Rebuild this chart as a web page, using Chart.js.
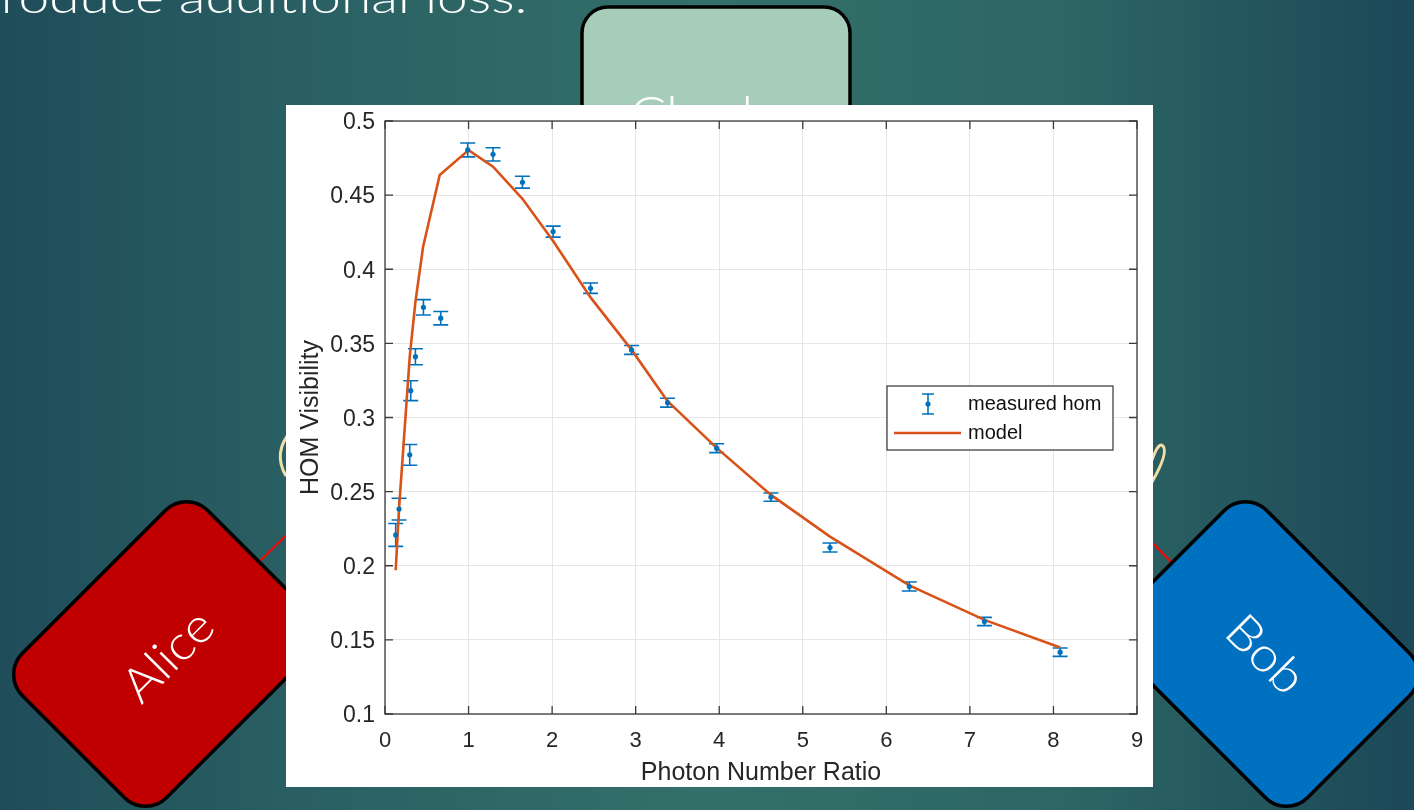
<!DOCTYPE html>
<html>
<head>
<meta charset="utf-8">
<script src="https://cdn.jsdelivr.net/npm/chart.js@4.4.1/dist/chart.umd.min.js"></script>
<style>
  html,body{margin:0;padding:0;width:1414px;height:810px;overflow:hidden;}
  body{position:relative;background:linear-gradient(90deg,#1f4d5a 0%,#2a6063 22%,#34706a 50%,#2d6664 75%,#1c4858 100%);font-family:"Liberation Sans",Arial,sans-serif;}
  #deco{position:absolute;left:0;top:0;}
  .slidetxt{position:absolute;color:#fff;font-family:"Lato","Open Sans",sans-serif;font-weight:300;white-space:nowrap;transform-origin:right top;}
  #wrap{position:absolute;left:286px;top:105px;width:867px;height:682px;background:#fff;}
</style>
</head>
<body>
<svg id="deco" width="1414" height="810" xmlns="http://www.w3.org/2000/svg">
  <line x1="230" y1="590" x2="300" y2="522" stroke="#ff0000" stroke-width="2"/>
  <line x1="1140" y1="530" x2="1175" y2="566" stroke="#ff0000" stroke-width="2"/>
  <path d="M292 430 Q272 452 286 476" fill="none" stroke="#f3dfa6" stroke-width="3"/>
  <path d="M1152 482 C1160 468 1168 452 1163 446 C1159 442 1155 452 1152 460" fill="none" stroke="#f3dfa6" stroke-width="3"/>
  <rect x="582" y="7" width="268" height="170" rx="26" ry="26" fill="#a6cdb9" stroke="#000" stroke-width="3.5"/>
  <text x="717" y="132" fill="#fff" font-family="Lato, Open Sans, sans-serif" font-weight="300" font-size="50" text-anchor="middle" transform="translate(717,0) scale(1.08,1) translate(-717,0)">Charles</text>
  <g transform="translate(166,654) rotate(-45)">
    <rect x="-131" y="-102" width="262" height="204" rx="30" ry="30" fill="#c00000" stroke="#000" stroke-width="3.5"/>
    <text x="0" y="19" fill="#fff" font-family="Lato, Open Sans, sans-serif" font-weight="300" font-size="48" text-anchor="middle" transform="scale(1.08,1)">Alice</text>
  </g>
  <g transform="translate(1266,654) rotate(45)">
    <rect x="-131" y="-102" width="262" height="204" rx="30" ry="30" fill="#0070c0" stroke="#000" stroke-width="3.5"/>
    <text x="0" y="17" fill="#fff" font-family="Lato, Open Sans, sans-serif" font-weight="300" font-size="48" text-anchor="middle" transform="scale(1.08,1)">Bob</text>
  </g>
</svg>
<div class="slidetxt" style="right:887px;top:-26px;font-size:44px;line-height:44px;transform:scaleX(1.25);">roduce additional loss.</div>
<div id="wrap"><canvas id="c" width="867" height="682"></canvas></div>
<script>
// ---- data ----
const measuredX = [0.128, 0.168, 0.296, 0.308, 0.364, 0.46, 0.667, 0.99, 1.293, 1.645, 2.012, 2.46, 2.951, 3.382, 3.969, 4.619, 5.326, 6.275, 7.174, 8.08];
const measuredY = [0.2208, 0.2382, 0.2748, 0.3181, 0.341, 0.3743, 0.367, 0.4805, 0.4775, 0.4587, 0.4254, 0.3872, 0.3456, 0.31, 0.2793, 0.2463, 0.2123, 0.186, 0.1624, 0.1417];
const measuredErr = [0.0077, 0.0073, 0.007, 0.0067, 0.0054, 0.0052, 0.0045, 0.0047, 0.0045, 0.004, 0.0037, 0.0035, 0.003, 0.003, 0.003, 0.0028, 0.003, 0.003, 0.0028, 0.0028];
const modelX = [0.128, 0.168, 0.296, 0.364, 0.456, 0.655, 1.0, 1.293, 1.645, 2.012, 2.46, 2.951, 3.382, 3.969, 4.619, 5.326, 6.275, 7.174, 8.08];
const modelY = [0.197, 0.2385, 0.341, 0.378, 0.4152, 0.4636, 0.4804, 0.4692, 0.4475, 0.419, 0.381, 0.3456, 0.311, 0.2795, 0.2478, 0.2197, 0.1867, 0.1635, 0.1449];
const xTicks = [0,1,2,3,4,5,6,7,8,9];
const yTicks = [0.1,0.15,0.2,0.25,0.3,0.35,0.4,0.45,0.5];
const seriesNames = ['measured hom', 'model'];

const BLUE = '#0072BD', ORANGE = '#D95319', AXIS = '#3a3a3a';
const FONT = '"Liberation Sans", Arial, sans-serif';

const errorBars = {
  id: 'errorBars',
  beforeDatasetsDraw(chart) {
    const {ctx, scales:{x, y}} = chart;
    ctx.save();
    ctx.strokeStyle = BLUE; ctx.lineWidth = 1.6;
    for (let i = 0; i < measuredX.length; i++) {
      const px = x.getPixelForValue(measuredX[i]);
      const y1 = y.getPixelForValue(measuredY[i] - measuredErr[i]);
      const y2 = y.getPixelForValue(measuredY[i] + measuredErr[i]);
      ctx.beginPath();
      ctx.moveTo(px, y1); ctx.lineTo(px, y2);
      ctx.moveTo(px - 7.5, y1); ctx.lineTo(px + 7.5, y1);
      ctx.moveTo(px - 7.5, y2); ctx.lineTo(px + 7.5, y2);
      ctx.stroke();
    }
    ctx.restore();
  }
};

const frame = {
  id: 'frame',
  afterDatasetsDraw(chart) {
    const {ctx, chartArea:a, scales:{x, y}} = chart;
    ctx.save();
    ctx.strokeStyle = AXIS; ctx.lineWidth = 1.3;
    ctx.strokeRect(a.left, a.top, a.right - a.left, a.bottom - a.top);
    ctx.beginPath();
    const L = 8;
    xTicks.forEach(v => {
      const px = x.getPixelForValue(v);
      ctx.moveTo(px, a.bottom); ctx.lineTo(px, a.bottom - L);
      ctx.moveTo(px, a.top); ctx.lineTo(px, a.top + L);
    });
    yTicks.forEach(v => {
      const py = y.getPixelForValue(v);
      ctx.moveTo(a.left, py); ctx.lineTo(a.left + L, py);
      ctx.moveTo(a.right, py); ctx.lineTo(a.right - L, py);
    });
    ctx.stroke();
    // legend box (placed relative to the plot area)
    const bx = a.left + 502, by = a.top + 265, bw = 226, bh = 64;
    ctx.fillStyle = '#fff';
    ctx.fillRect(bx, by, bw, bh);
    ctx.strokeStyle = '#333'; ctx.lineWidth = 1.2;
    ctx.strokeRect(bx, by, bw, bh);
    const ix = bx + 41, iy = by + 18;
    ctx.strokeStyle = BLUE; ctx.lineWidth = 1.6;
    ctx.beginPath();
    ctx.moveTo(ix, iy - 10); ctx.lineTo(ix, iy + 10);
    ctx.moveTo(ix - 6, iy - 10); ctx.lineTo(ix + 6, iy - 10);
    ctx.moveTo(ix - 6, iy + 10); ctx.lineTo(ix + 6, iy + 10);
    ctx.stroke();
    ctx.fillStyle = BLUE;
    ctx.beginPath(); ctx.arc(ix, iy, 2.6, 0, Math.PI * 2); ctx.fill();
    ctx.strokeStyle = ORANGE; ctx.lineWidth = 2.5;
    ctx.beginPath(); ctx.moveTo(bx + 7, by + 47); ctx.lineTo(bx + 74, by + 47); ctx.stroke();
    ctx.fillStyle = '#111';
    ctx.font = '20px ' + FONT;
    ctx.textBaseline = 'middle'; ctx.textAlign = 'left';
    ctx.fillText(seriesNames[0], bx + 81, iy);
    ctx.fillText(seriesNames[1], bx + 81, by + 47);
    ctx.restore();
  }
};

const fmt = v => String(Number(v.toFixed(2)));

new Chart(document.getElementById('c'), {
  type: 'scatter',
  data: {
    datasets: [
      {
        label: seriesNames[0],
        data: measuredX.map((v, i) => ({x: v, y: measuredY[i]})),
        showLine: false,
        pointRadius: 2.6,
        pointBackgroundColor: BLUE,
        pointBorderWidth: 0,
        borderColor: BLUE
      },
      {
        label: seriesNames[1],
        data: modelX.map((v, i) => ({x: v, y: modelY[i]})),
        showLine: true,
        pointRadius: 0,
        borderColor: ORANGE,
        borderWidth: 2.6,
        tension: 0
      }
    ]
  },
  options: {
    responsive: false,
    animation: false,
    events: [],
    layout: {padding: {top: 16, right: 16, left: 0, bottom: 0}},
    plugins: {legend: {display: false}, tooltip: {enabled: false}},
    scales: {
      x: {
        type: 'linear', min: 0, max: 9,
        afterBuildTicks: s => { s.ticks = xTicks.map(v => ({value: v})); },
        afterFit: s => { s.height = 73; s.paddingLeft = 0; s.paddingRight = 0; },
        grid: {color: '#e6e6e6', lineWidth: 1, drawTicks: false},
        border: {display: false},
        ticks: {color: '#262626', font: {family: FONT, size: 22}, padding: 14, callback: v => fmt(v), maxRotation: 0},
        title: {display: true, text: 'Photon Number Ratio', color: '#262626', font: {family: FONT, size: 25, lineHeight: 1}, padding: {top: 0, bottom: 1}}
      },
      y: {
        type: 'linear', min: 0.1, max: 0.5,
        afterBuildTicks: s => { s.ticks = yTicks.map(v => ({value: v})); },
        afterFit: s => { s.width = 99; s.paddingTop = 0; s.paddingBottom = 0; },
        grid: {color: '#e6e6e6', lineWidth: 1, drawTicks: false},
        border: {display: false},
        ticks: {color: '#262626', font: {family: FONT, size: 23}, padding: 10, labelOffset: 2, callback: v => fmt(v)},
        title: {display: true, text: 'HOM Visibility', color: '#262626', font: {family: FONT, size: 25, lineHeight: 1}, padding: {top: 13, bottom: 0}}
      }
    }
  },
  plugins: [errorBars, frame]
});
</script>
</body>
</html>
